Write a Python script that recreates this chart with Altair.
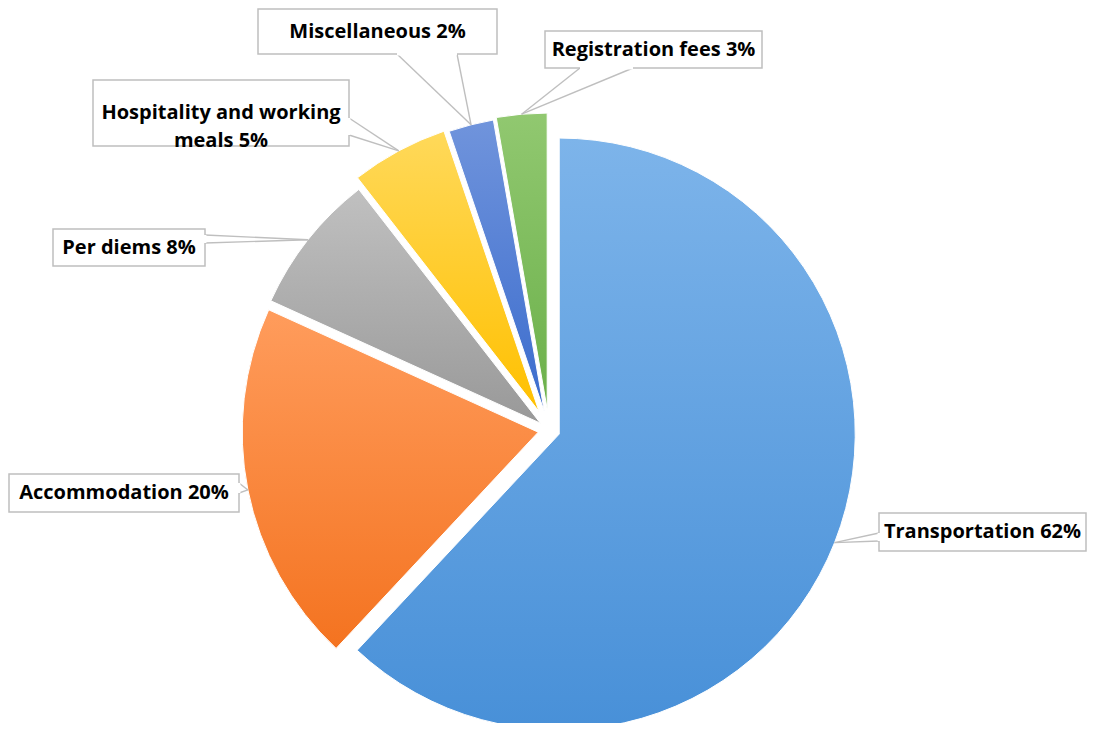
import altair as alt
import pandas as pd

# ---- data ----
categories = ["Transportation", "Accommodation", "Per diems",
              "Hospitality and working meals", "Miscellaneous", "Registration fees"]
label_names = ["Transportation", "Accommodation", "Per diems",
               "Hospitality and working\nmeals", "Miscellaneous", "Registration fees"]
shares = [61.9, 19.8, 7.7, 5.3, 2.45, 2.75]

# ---- styling / layout (not data) ----
top_colors = ["#7DB4EA", "#FF9C5C", "#C0C0C0", "#FFD95A", "#7094DC", "#91C870"]
bottom_colors = ["#4890D8", "#F47320", "#999999", "#FFC000", "#3B6CCD", "#6BB04A"]
explode = [11, 11, 11, 21, 19, 21]
box_x1 = [871, 1, 45, 85, 250, 537]
box_x2 = [1078, 231, 197, 341, 489, 754]
box_y1 = [505, 466, 221, 72, 1, 23]
box_y2 = [543, 504, 258, 138, 46, 60]
base_ax = [871, 231, 197, 341, 389, 572]
base_ay = [525, 475, 227, 110, 46, 60]
base_bx = [871, 231, 197, 341, 449, 625]
base_by = [533, 485, 235, 127, 46, 60]

CX, CY, R = 541, 422, 296

df = pd.DataFrame({
    "cat": categories, "name": label_names, "value": shares,
    "order": list(range(len(categories))), "explode": explode,
    "bx1": box_x1, "bx2": box_x2, "by1": box_y1, "by2": box_y2,
    "ax": base_ax, "ay": base_ay, "bx": base_bx, "by": base_by,
})

base = (
    alt.Chart(df)
    .transform_joinaggregate(total="sum(value)")
    .transform_window(cum="sum(value)", sort=[alt.SortField("order")], frame=[None, 0])
    .transform_calculate(t1="2*PI*datum.cum/datum.total")
    .transform_calculate(t0="2*PI*(datum.cum - datum.value)/datum.total")
    .transform_calculate(mid="(datum.t0 + datum.t1)/2")
    .transform_calculate(cx=f"{CX} + datum.explode*sin(datum.mid)")
    .transform_calculate(cy=f"{CY} - datum.explode*cos(datum.mid)")
    .transform_calculate(tipx=f"datum.cx + {R}*sin(datum.mid)")
    .transform_calculate(tipy=f"datum.cy - {R}*cos(datum.mid)")
    .transform_calculate(pct="round(100*datum.value/datum.total)")
    .transform_calculate(label="datum.name + ' ' + datum.pct + '%'")
    .transform_calculate(tx="(datum.bx1 + datum.bx2)/2")
    .transform_calculate(ty="(datum.by1 + datum.by2)/2")
)

layers = []
for i, c in enumerate(categories):
    grad = alt.LinearGradient(
        gradient="linear",
        stops=[alt.GradientStop(color=top_colors[i], offset=0),
               alt.GradientStop(color=bottom_colors[i], offset=1)],
        x1=0, x2=0, y1=0, y2=1,
    )
    layers.append(
        base.transform_filter(alt.datum.cat == c)
        .mark_arc(radius=R, fill=grad, stroke="white", strokeWidth=1)
        .encode(
            theta=alt.Theta("t0:Q", scale=None, stack=None),
            theta2="t1:Q",
            x=alt.X("cx:Q", scale=None, axis=None),
            y=alt.Y("cy:Q", scale=None, axis=None),
        )
    )

line_color = "#BFBFBF"
lines_a = base.mark_rule(color=line_color, strokeWidth=1.4).encode(
    x=alt.X("ax:Q", scale=None, axis=None), y=alt.Y("ay:Q", scale=None, axis=None),
    x2="tipx:Q", y2="tipy:Q")
lines_b = base.mark_rule(color=line_color, strokeWidth=1.4).encode(
    x=alt.X("bx:Q", scale=None, axis=None), y=alt.Y("by:Q", scale=None, axis=None),
    x2="tipx:Q", y2="tipy:Q")
boxes = base.mark_rect(fill="white", stroke=line_color, strokeWidth=1.5).encode(
    x=alt.X("bx1:Q", scale=None, axis=None), x2="bx2:Q",
    y=alt.Y("by1:Q", scale=None, axis=None), y2="by2:Q")
erase = base.mark_rule(color="white", strokeWidth=2.8).encode(
    x=alt.X("ax:Q", scale=None, axis=None), y=alt.Y("ay:Q", scale=None, axis=None),
    x2="bx:Q", y2="by:Q")
texts = base.mark_text(font="Open Sans", fontSize=20, fontWeight="bold", color="#000000",
                       align="center", baseline="middle", lineBreak="\n",
                       lineHeight=28).encode(
    x=alt.X("tx:Q", scale=None, axis=None), y=alt.Y("ty:Q", scale=None, axis=None),
    text="label:N")

chart = alt.layer(*layers, lines_a, lines_b, boxes, erase, texts).properties(
    width=1079, height=715, autosize="none", padding=0,
).configure_view(stroke=None)

chart.save("out.html", embed_options={"renderer": "svg", "actions": False})
